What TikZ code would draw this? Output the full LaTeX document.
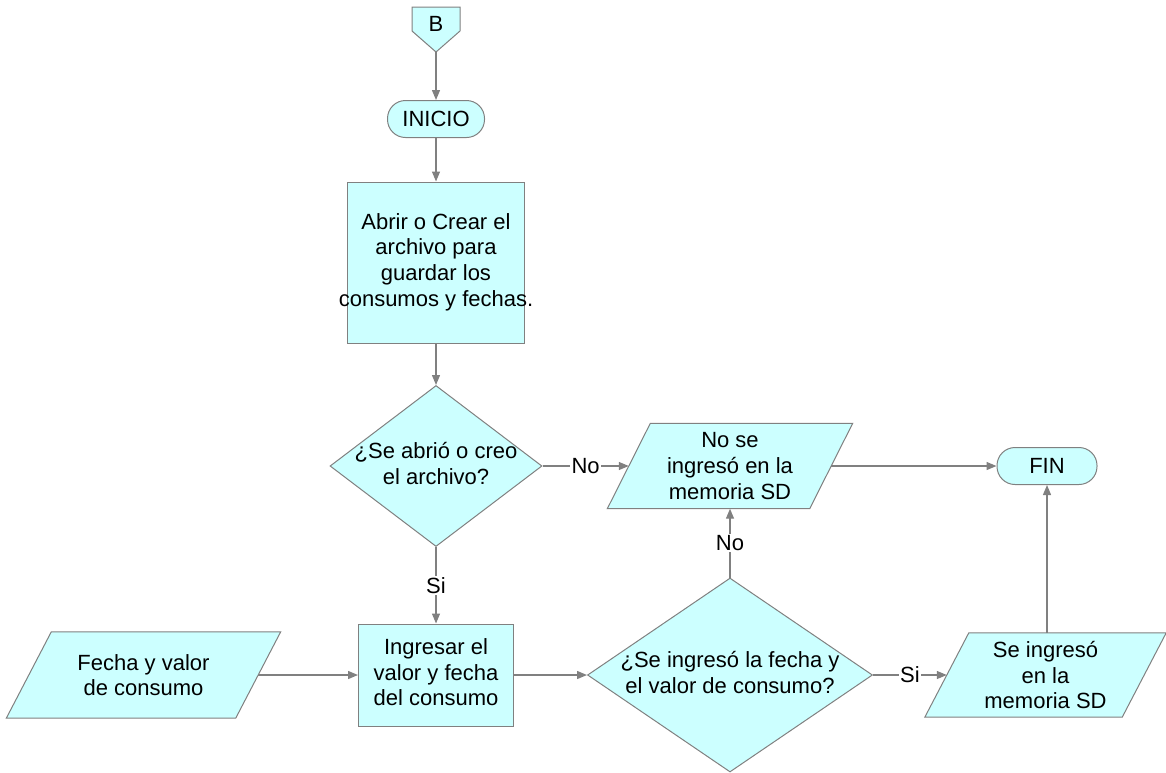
\documentclass[tikz,border=0pt]{standalone}
\usepackage{fontspec}
\setmainfont{Liberation Sans}
\usetikzlibrary{shapes.geometric,arrows.meta,backgrounds}
\definecolor{boxfill}{HTML}{CCFFFF}
\definecolor{edgegray}{HTML}{808080}
% text centred in a box of no width, so that long lines may overhang the shape
\newcommand{\ctrtext}[1]{\makebox[0pt]{\begin{tabular}{@{}c@{}}#1\end{tabular}}}
\begin{document}
\begin{tikzpicture}[x=1pt,y=-1pt,
  every node/.style={font=\fontsize{22}{25.7}\selectfont, text=black},
  shapebase/.style={draw=edgegray, fill=boxfill, line width=1pt},
  term/.style={shapebase, rectangle, rounded corners=18pt, minimum height=37pt, inner sep=0pt},
  proc/.style={shapebase, rectangle, inner sep=0pt},
  % data node: its box is the mid-line of the parallelogram drawn behind it
  io/.style={rectangle, align=center, inner sep=0pt},
  dec/.style={shapebase, diamond, inner sep=0pt},
  flow/.style={draw=edgegray, line width=1.3pt, -{Triangle[length=10pt,width=8pt]}},
  lbl/.style={fill=white, inner sep=1.5pt}
]
\useasboundingbox (0,0) rectangle (1166,772);

% off-page connector
\path[shapebase] (412,7) -- (460,7) -- (460,31) -- (436,52) -- (412,31) -- cycle;
\node (B) at (436,24) {B};
\coordinate (Btip) at (436,52);

% process column
\node[term, minimum width=97pt] (ini) at (436,119) {INICIO};
\node[proc, minimum width=177pt, minimum height=161pt] (open) at (436,262.5)
  {\ctrtext{Abrir o Crear el\\archivo para\\guardar los\\consumos y fechas.}};
\node[dec, minimum width=212pt, minimum height=161pt] (q1) at (436,466)
  {\ctrtext{¿Se abrió o creo\\el archivo?}};
\node[proc, minimum width=155pt, minimum height=102pt] (ing) at (436,675)
  {\ctrtext{Ingresar el\\valor y fecha\\del consumo}};

% input
\node[io, minimum width=229pt, minimum height=86pt] (fecha) at (143.5,675)
  {Fecha y valor\\de consumo};

% second decision and outputs
\node[dec, minimum width=285pt, minimum height=194pt] (q2) at (730,675)
  {\ctrtext{¿Se ingresó la fecha y\\el valor de consumo?}};
\node[io, minimum width=202pt, minimum height=85pt] (nosd) at (730,466)
  {No se\\ingresó en la\\memoria SD};
\node[io, minimum width=197pt, minimum height=84pt] (sisd) at (1045.5,675)
  {Se ingresó\\en la\\memoria SD};
\node[term, minimum width=100pt] (fin) at (1047,466) {FIN};

% parallelogram outlines behind the data nodes
\begin{scope}[on background layer]
  \foreach \n/\s in {fecha/22.5, nosd/21.5, sisd/22} {
    \path[shapebase] ([xshift=\s pt]\n.north west) -- ([xshift=\s pt]\n.north east)
      -- ([xshift=-\s pt]\n.south east) -- ([xshift=-\s pt]\n.south west) -- cycle;
  }
\end{scope}

% connectors
\draw[flow] (Btip) -- (ini.north);
\draw[flow] (ini.south) -- (open.north);
\draw[flow] (open.south) -- (q1.north);
\draw[flow] (q1.east) -- node[lbl] {No} (nosd.west);
\draw[flow] (q1.south) -- node[lbl] {Si} (ing.north);
\draw[flow] (fecha.east) -- (ing.west);
\draw[flow] (ing.east) -- (q2.west);
\draw[flow] (q2.north) -- node[lbl] {No} (nosd.south);
\draw[flow] (q2.east) -- node[lbl] {Si} (sisd.west);
\draw[flow] (nosd.east) -- (fin.west);
\draw[flow] (sisd.north -| fin.south) -- (fin.south);
\end{tikzpicture}
\end{document}
